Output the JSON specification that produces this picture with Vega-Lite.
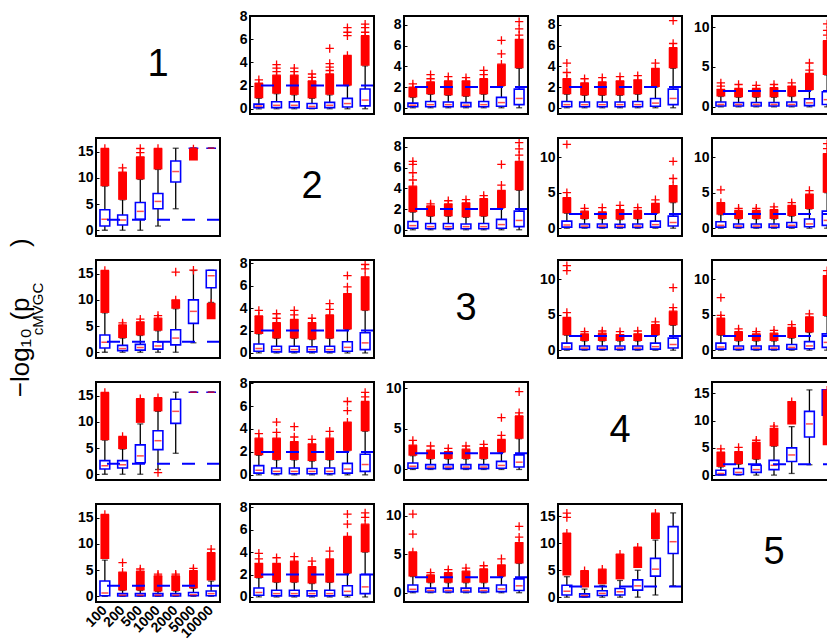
{
"$schema": "https://vega.github.io/schema/vega-lite/v6.json",
"padding": {"left": 7, "top": 9, "right": 5, "bottom": 5},
"background": "white",
"data": {"values": [
{"t":"d","r":1,"c":1,"label":"1"},{"t":"d","r":2,"c":2,"label":"2"},{"t":"d","r":3,"c":3,"label":"3"},{"t":"d","r":4,"c":4,"label":"4"},{"t":"d","r":5,"c":5,"label":"5"},
{"t":"f","r":1,"c":2,"ymin":-0.45,"ymax":8.0,"thr":2},{"t":"f","r":1,"c":3,"ymin":-0.6,"ymax":8.85,"thr":2},{"t":"f","r":1,"c":4,"ymin":-0.6,"ymax":8.85,"thr":2},{"t":"f","r":1,"c":5,"ymin":-0.9,"ymax":11.4,"thr":2},
{"t":"f","r":2,"c":1,"ymin":-1.1,"ymax":17.6,"thr":2},{"t":"f","r":2,"c":3,"ymin":-0.6,"ymax":8.85,"thr":2},{"t":"f","r":2,"c":4,"ymin":-1.1,"ymax":12.7,"thr":2},{"t":"f","r":2,"c":5,"ymin":-1.1,"ymax":12.7,"thr":2},
{"t":"f","r":3,"c":1,"ymin":-1.1,"ymax":17.6,"thr":2},{"t":"f","r":3,"c":2,"ymin":-0.45,"ymax":8.3,"thr":2},{"t":"f","r":3,"c":4,"ymin":-1.1,"ymax":12.7,"thr":2},{"t":"f","r":3,"c":5,"ymin":-1.1,"ymax":12.7,"thr":2},
{"t":"f","r":4,"c":1,"ymin":-1.1,"ymax":17.6,"thr":2},{"t":"f","r":4,"c":2,"ymin":-0.45,"ymax":8.1,"thr":2},{"t":"f","r":4,"c":3,"ymin":-1.3,"ymax":10.8,"thr":2},{"t":"f","r":4,"c":5,"ymin":-0.9,"ymax":17.1,"thr":2},
{"t":"f","r":5,"c":1,"ymin":-1.1,"ymax":17.6,"thr":2},{"t":"f","r":5,"c":2,"ymin":-0.45,"ymax":8.3,"thr":2},{"t":"f","r":5,"c":3,"ymin":-1.2,"ymax":11.5,"thr":2},{"t":"f","r":5,"c":4,"ymin":-0.9,"ymax":17.3,"thr":2},

{"t":"b","r":1,"c":2,"n":"100","lo":0,"q1":0.1,"med":0.25,"q3":0.4,"hi":0.9,"olo":0.9,"ohi":2.2},
{"t":"b","r":1,"c":2,"n":"200","lo":0,"q1":0.1,"med":0.3,"q3":0.6,"hi":1.3,"olo":1.3,"ohi":2.9},
{"t":"b","r":1,"c":2,"n":"500","lo":0,"q1":0.1,"med":0.3,"q3":0.6,"hi":1.2,"olo":1.2,"ohi":2.9},
{"t":"b","r":1,"c":2,"n":"1000","lo":0,"q1":0.05,"med":0.2,"q3":0.45,"hi":0.9,"olo":0.9,"ohi":2.4},
{"t":"b","r":1,"c":2,"n":"2000","lo":0,"q1":0.1,"med":0.3,"q3":0.55,"hi":1.2,"olo":1.2,"ohi":3.0},
{"t":"b","r":1,"c":2,"n":"5000","lo":0,"q1":0.15,"med":0.45,"q3":0.9,"hi":2.0,"olo":2.0,"ohi":4.6},
{"t":"b","r":1,"c":2,"n":"10000","lo":0,"q1":0.25,"med":0.75,"q3":1.7,"hi":3.7,"olo":3.7,"ohi":6.3},
{"t":"o","r":1,"c":2,"n":"100","v":2.5},{"t":"o","r":1,"c":2,"n":"200","v":3.2},{"t":"o","r":1,"c":2,"n":"200","v":3.5},{"t":"o","r":1,"c":2,"n":"200","v":3.8},{"t":"o","r":1,"c":2,"n":"500","v":3.2},{"t":"o","r":1,"c":2,"n":"500","v":3.5},{"t":"o","r":1,"c":2,"n":"1000","v":2.7},{"t":"o","r":1,"c":2,"n":"1000","v":3.0},{"t":"o","r":1,"c":2,"n":"2000","v":3.3},{"t":"o","r":1,"c":2,"n":"2000","v":3.6},{"t":"o","r":1,"c":2,"n":"2000","v":3.9},{"t":"o","r":1,"c":2,"n":"2000","v":5.2},{"t":"o","r":1,"c":2,"n":"5000","v":6.3},{"t":"o","r":1,"c":2,"n":"5000","v":6.6},{"t":"o","r":1,"c":2,"n":"5000","v":7.0},{"t":"o","r":1,"c":2,"n":"10000","v":6.6},{"t":"o","r":1,"c":2,"n":"10000","v":7.0},{"t":"o","r":1,"c":2,"n":"10000","v":7.3},

{"t":"b","r":1,"c":3,"n":"100","lo":0,"q1":0.1,"med":0.25,"q3":0.45,"hi":1.0,"olo":1.0,"ohi":2.0},
{"t":"b","r":1,"c":3,"n":"200","lo":0,"q1":0.1,"med":0.3,"q3":0.6,"hi":1.3,"olo":1.3,"ohi":2.5},
{"t":"b","r":1,"c":3,"n":"500","lo":0,"q1":0.1,"med":0.3,"q3":0.55,"hi":1.2,"olo":1.2,"ohi":2.6},
{"t":"b","r":1,"c":3,"n":"1000","lo":0,"q1":0.1,"med":0.25,"q3":0.5,"hi":1.1,"olo":1.1,"ohi":2.6},
{"t":"b","r":1,"c":3,"n":"2000","lo":0,"q1":0.1,"med":0.3,"q3":0.6,"hi":1.3,"olo":1.3,"ohi":2.8},
{"t":"b","r":1,"c":3,"n":"5000","lo":0,"q1":0.15,"med":0.5,"q3":1.0,"hi":2.1,"olo":2.1,"ohi":4.2},
{"t":"b","r":1,"c":3,"n":"10000","lo":0,"q1":0.3,"med":0.9,"q3":1.8,"hi":3.8,"olo":3.8,"ohi":6.6},
{"t":"o","r":1,"c":3,"n":"100","v":2.3},{"t":"o","r":1,"c":3,"n":"200","v":2.8},{"t":"o","r":1,"c":3,"n":"200","v":3.2},{"t":"o","r":1,"c":3,"n":"500","v":3.0},{"t":"o","r":1,"c":3,"n":"1000","v":2.9},{"t":"o","r":1,"c":3,"n":"2000","v":3.2},{"t":"o","r":1,"c":3,"n":"2000","v":3.6},{"t":"o","r":1,"c":3,"n":"5000","v":5.2},{"t":"o","r":1,"c":3,"n":"5000","v":6.5},{"t":"o","r":1,"c":3,"n":"10000","v":7.0},{"t":"o","r":1,"c":3,"n":"10000","v":7.6},{"t":"o","r":1,"c":3,"n":"10000","v":8.3},

{"t":"b","r":1,"c":4,"n":"100","lo":0,"q1":0.1,"med":0.3,"q3":0.6,"hi":1.3,"olo":1.3,"ohi":2.8},
{"t":"b","r":1,"c":4,"n":"200","lo":0,"q1":0.1,"med":0.3,"q3":0.55,"hi":1.2,"olo":1.2,"ohi":2.4},
{"t":"b","r":1,"c":4,"n":"500","lo":0,"q1":0.1,"med":0.3,"q3":0.55,"hi":1.2,"olo":1.2,"ohi":2.5},
{"t":"b","r":1,"c":4,"n":"1000","lo":0,"q1":0.1,"med":0.3,"q3":0.55,"hi":1.2,"olo":1.2,"ohi":2.6},
{"t":"b","r":1,"c":4,"n":"2000","lo":0,"q1":0.1,"med":0.3,"q3":0.6,"hi":1.3,"olo":1.3,"ohi":2.7},
{"t":"b","r":1,"c":4,"n":"5000","lo":0,"q1":0.15,"med":0.45,"q3":0.9,"hi":2.0,"olo":2.0,"ohi":3.8},
{"t":"b","r":1,"c":4,"n":"10000","lo":0,"q1":0.3,"med":0.9,"q3":1.8,"hi":3.8,"olo":3.8,"ohi":5.8},
{"t":"o","r":1,"c":4,"n":"100","v":3.4},{"t":"o","r":1,"c":4,"n":"100","v":4.3},{"t":"o","r":1,"c":4,"n":"200","v":2.8},{"t":"o","r":1,"c":4,"n":"500","v":2.9},{"t":"o","r":1,"c":4,"n":"1000","v":3.0},{"t":"o","r":1,"c":4,"n":"2000","v":3.1},{"t":"o","r":1,"c":4,"n":"5000","v":4.3},{"t":"o","r":1,"c":4,"n":"10000","v":6.2},{"t":"o","r":1,"c":4,"n":"10000","v":8.4},

{"t":"b","r":1,"c":5,"n":"100","lo":0,"q1":0.1,"med":0.3,"q3":0.6,"hi":1.3,"olo":1.3,"ohi":2.2},
{"t":"b","r":1,"c":5,"n":"200","lo":0,"q1":0.1,"med":0.3,"q3":0.55,"hi":1.2,"olo":1.2,"ohi":2.3},
{"t":"b","r":1,"c":5,"n":"500","lo":0,"q1":0.1,"med":0.3,"q3":0.55,"hi":1.2,"olo":1.2,"ohi":2.3},
{"t":"b","r":1,"c":5,"n":"1000","lo":0,"q1":0.1,"med":0.3,"q3":0.55,"hi":1.2,"olo":1.2,"ohi":2.4},
{"t":"b","r":1,"c":5,"n":"2000","lo":0,"q1":0.1,"med":0.3,"q3":0.6,"hi":1.3,"olo":1.3,"ohi":2.6},
{"t":"b","r":1,"c":5,"n":"5000","lo":0,"q1":0.15,"med":0.5,"q3":1.0,"hi":2.1,"olo":2.1,"ohi":4.2},
{"t":"b","r":1,"c":5,"n":"10000","lo":0,"q1":0.3,"med":0.9,"q3":1.9,"hi":4.0,"olo":4.0,"ohi":8.3},
{"t":"o","r":1,"c":5,"n":"100","v":2.6},{"t":"o","r":1,"c":5,"n":"100","v":3.0},{"t":"o","r":1,"c":5,"n":"200","v":2.8},{"t":"o","r":1,"c":5,"n":"500","v":2.7},{"t":"o","r":1,"c":5,"n":"1000","v":2.8},{"t":"o","r":1,"c":5,"n":"2000","v":3.0},{"t":"o","r":1,"c":5,"n":"5000","v":4.6},{"t":"o","r":1,"c":5,"n":"5000","v":5.5},{"t":"o","r":1,"c":5,"n":"10000","v":9.0},{"t":"o","r":1,"c":5,"n":"10000","v":9.6},{"t":"o","r":1,"c":5,"n":"10000","v":10.4},

{"t":"b","r":2,"c":1,"n":"100","lo":0,"q1":0.8,"med":2.1,"q3":3.9,"hi":8.4,"olo":8.4,"ohi":15.6},
{"t":"b","r":2,"c":1,"n":"200","lo":0,"q1":1.0,"med":1.95,"q3":2.9,"hi":5.8,"olo":5.8,"ohi":11.1},
{"t":"b","r":2,"c":1,"n":"500","lo":0,"q1":2.1,"med":3.6,"q3":5.3,"hi":9.7,"olo":9.7,"ohi":14.0},
{"t":"b","r":2,"c":1,"n":"1000","lo":0.8,"q1":4.1,"med":5.5,"q3":7.0,"hi":11.6,"olo":11.6,"ohi":15.6},
{"t":"b","r":2,"c":1,"n":"2000","lo":4.1,"q1":9.2,"med":11.2,"q3":13.2,"hi":15.65},
{"t":"b","r":2,"c":1,"n":"5000","lo":15.65,"q1":15.65,"med":15.65,"q3":15.65,"hi":15.65,"olo":13.3,"ohi":15.5},
{"t":"b","r":2,"c":1,"n":"10000","lo":15.65,"q1":15.65,"med":15.65,"q3":15.65,"hi":15.65},
{"t":"o","r":2,"c":1,"n":"200","v":11.9},{"t":"o","r":2,"c":1,"n":"500","v":14.8},{"t":"o","r":2,"c":1,"n":"500","v":15.6},

{"t":"b","r":2,"c":3,"n":"100","lo":0,"q1":0.15,"med":0.4,"q3":0.8,"hi":1.7,"olo":1.7,"ohi":4.2},
{"t":"b","r":2,"c":3,"n":"200","lo":0,"q1":0.1,"med":0.3,"q3":0.6,"hi":1.3,"olo":1.3,"ohi":2.3},
{"t":"b","r":2,"c":3,"n":"500","lo":0,"q1":0.1,"med":0.3,"q3":0.6,"hi":1.3,"olo":1.3,"ohi":2.5},
{"t":"b","r":2,"c":3,"n":"1000","lo":0,"q1":0.1,"med":0.3,"q3":0.55,"hi":1.2,"olo":1.2,"ohi":2.6},
{"t":"b","r":2,"c":3,"n":"2000","lo":0,"q1":0.1,"med":0.3,"q3":0.6,"hi":1.3,"olo":1.3,"ohi":3.0},
{"t":"b","r":2,"c":3,"n":"5000","lo":0,"q1":0.15,"med":0.5,"q3":1.0,"hi":2.1,"olo":2.1,"ohi":3.8},
{"t":"b","r":2,"c":3,"n":"10000","lo":0,"q1":0.3,"med":0.9,"q3":1.8,"hi":3.8,"olo":3.8,"ohi":6.6},
{"t":"o","r":2,"c":3,"n":"100","v":4.8},{"t":"o","r":2,"c":3,"n":"100","v":5.5},{"t":"o","r":2,"c":3,"n":"100","v":6.3},{"t":"o","r":2,"c":3,"n":"100","v":6.6},{"t":"o","r":2,"c":3,"n":"200","v":2.5},{"t":"o","r":2,"c":3,"n":"500","v":2.8},{"t":"o","r":2,"c":3,"n":"1000","v":2.9},{"t":"o","r":2,"c":3,"n":"2000","v":3.3},{"t":"o","r":2,"c":3,"n":"5000","v":4.3},{"t":"o","r":2,"c":3,"n":"5000","v":6.3},{"t":"o","r":2,"c":3,"n":"10000","v":7.2},{"t":"o","r":2,"c":3,"n":"10000","v":7.8},{"t":"o","r":2,"c":3,"n":"10000","v":8.4},

{"t":"b","r":2,"c":4,"n":"100","lo":0,"q1":0.15,"med":0.45,"q3":1.0,"hi":2.1,"olo":2.1,"ohi":4.3},
{"t":"b","r":2,"c":4,"n":"200","lo":0,"q1":0.1,"med":0.3,"q3":0.6,"hi":1.3,"olo":1.3,"ohi":2.4},
{"t":"b","r":2,"c":4,"n":"500","lo":0,"q1":0.1,"med":0.3,"q3":0.6,"hi":1.3,"olo":1.3,"ohi":2.3},
{"t":"b","r":2,"c":4,"n":"1000","lo":0,"q1":0.1,"med":0.3,"q3":0.55,"hi":1.2,"olo":1.2,"ohi":2.6},
{"t":"b","r":2,"c":4,"n":"2000","lo":0,"q1":0.1,"med":0.3,"q3":0.6,"hi":1.3,"olo":1.3,"ohi":2.5},
{"t":"b","r":2,"c":4,"n":"5000","lo":0,"q1":0.15,"med":0.5,"q3":1.0,"hi":2.1,"olo":2.1,"ohi":3.5},
{"t":"b","r":2,"c":4,"n":"10000","lo":0,"q1":0.3,"med":0.8,"q3":1.7,"hi":3.6,"olo":3.6,"ohi":6.0},
{"t":"o","r":2,"c":4,"n":"100","v":5.0},{"t":"o","r":2,"c":4,"n":"100","v":11.8},{"t":"o","r":2,"c":4,"n":"200","v":2.8},{"t":"o","r":2,"c":4,"n":"500","v":2.9},{"t":"o","r":2,"c":4,"n":"1000","v":3.2},{"t":"o","r":2,"c":4,"n":"2000","v":2.9},{"t":"o","r":2,"c":4,"n":"5000","v":4.0},{"t":"o","r":2,"c":4,"n":"10000","v":7.0},{"t":"o","r":2,"c":4,"n":"10000","v":9.4},

{"t":"b","r":2,"c":5,"n":"100","lo":0,"q1":0.15,"med":0.4,"q3":0.9,"hi":1.9,"olo":1.9,"ohi":3.6},
{"t":"b","r":2,"c":5,"n":"200","lo":0,"q1":0.1,"med":0.3,"q3":0.6,"hi":1.3,"olo":1.3,"ohi":2.5},
{"t":"b","r":2,"c":5,"n":"500","lo":0,"q1":0.1,"med":0.3,"q3":0.6,"hi":1.3,"olo":1.3,"ohi":2.5},
{"t":"b","r":2,"c":5,"n":"1000","lo":0,"q1":0.1,"med":0.3,"q3":0.6,"hi":1.3,"olo":1.3,"ohi":2.6},
{"t":"b","r":2,"c":5,"n":"2000","lo":0,"q1":0.15,"med":0.4,"q3":0.8,"hi":1.7,"olo":1.7,"ohi":3.2},
{"t":"b","r":2,"c":5,"n":"5000","lo":0,"q1":0.2,"med":0.6,"q3":1.3,"hi":2.7,"olo":2.7,"ohi":4.8},
{"t":"b","r":2,"c":5,"n":"10000","lo":0,"q1":0.4,"med":1.1,"q3":2.4,"hi":5.0,"olo":5.0,"ohi":10.5},
{"t":"o","r":2,"c":5,"n":"100","v":5.4},{"t":"o","r":2,"c":5,"n":"200","v":2.8},{"t":"o","r":2,"c":5,"n":"500","v":2.8},{"t":"o","r":2,"c":5,"n":"1000","v":3.0},{"t":"o","r":2,"c":5,"n":"2000","v":3.6},{"t":"o","r":2,"c":5,"n":"5000","v":5.3},{"t":"o","r":2,"c":5,"n":"10000","v":11.2},{"t":"o","r":2,"c":5,"n":"10000","v":11.9},

{"t":"b","r":3,"c":1,"n":"100","lo":0,"q1":0.8,"med":1.9,"q3":3.3,"hi":7.5,"olo":7.5,"ohi":15.6},
{"t":"b","r":3,"c":1,"n":"200","lo":0,"q1":0.3,"med":0.7,"q3":1.3,"hi":2.7,"olo":2.7,"ohi":5.2},
{"t":"b","r":3,"c":1,"n":"500","lo":0,"q1":0.4,"med":0.9,"q3":1.5,"hi":3.2,"olo":3.2,"ohi":5.8},
{"t":"b","r":3,"c":1,"n":"1000","lo":0,"q1":0.6,"med":1.2,"q3":2.0,"hi":4.1,"olo":4.1,"ohi":6.5},
{"t":"b","r":3,"c":1,"n":"2000","lo":0,"q1":1.4,"med":2.7,"q3":4.3,"hi":8.3,"olo":8.3,"ohi":10.0},
{"t":"b","r":3,"c":1,"n":"5000","lo":1.8,"q1":5.5,"med":7.8,"q3":10.0,"hi":15.6},
{"t":"b","r":3,"c":1,"n":"10000","lo":9.5,"q1":12.3,"med":14.6,"q3":15.65,"hi":15.65,"olo":6.3,"ohi":9.3},
{"t":"o","r":3,"c":1,"n":"200","v":5.6},{"t":"o","r":3,"c":1,"n":"500","v":6.3},{"t":"o","r":3,"c":1,"n":"1000","v":7.0},{"t":"o","r":3,"c":1,"n":"2000","v":15.3},{"t":"o","r":3,"c":1,"n":"5000","v":15.65},

{"t":"b","r":3,"c":2,"n":"100","lo":0,"q1":0.15,"med":0.4,"q3":0.8,"hi":1.7,"olo":1.7,"ohi":3.3},
{"t":"b","r":3,"c":2,"n":"200","lo":0,"q1":0.1,"med":0.3,"q3":0.6,"hi":1.3,"olo":1.3,"ohi":2.7},
{"t":"b","r":3,"c":2,"n":"500","lo":0,"q1":0.1,"med":0.3,"q3":0.6,"hi":1.3,"olo":1.3,"ohi":3.0},
{"t":"b","r":3,"c":2,"n":"1000","lo":0,"q1":0.1,"med":0.3,"q3":0.55,"hi":1.2,"olo":1.2,"ohi":2.7},
{"t":"b","r":3,"c":2,"n":"2000","lo":0,"q1":0.1,"med":0.3,"q3":0.6,"hi":1.3,"olo":1.3,"ohi":3.4},
{"t":"b","r":3,"c":2,"n":"5000","lo":0,"q1":0.15,"med":0.5,"q3":1.0,"hi":2.1,"olo":2.1,"ohi":5.3},
{"t":"b","r":3,"c":2,"n":"10000","lo":0,"q1":0.3,"med":0.9,"q3":1.8,"hi":3.8,"olo":3.8,"ohi":6.8},
{"t":"o","r":3,"c":2,"n":"100","v":3.8},{"t":"o","r":3,"c":2,"n":"200","v":3.1},{"t":"o","r":3,"c":2,"n":"200","v":3.5},{"t":"o","r":3,"c":2,"n":"500","v":3.4},{"t":"o","r":3,"c":2,"n":"500","v":3.8},{"t":"o","r":3,"c":2,"n":"1000","v":3.1},{"t":"o","r":3,"c":2,"n":"2000","v":3.9},{"t":"o","r":3,"c":2,"n":"2000","v":4.4},{"t":"o","r":3,"c":2,"n":"5000","v":5.9},{"t":"o","r":3,"c":2,"n":"5000","v":6.9},{"t":"o","r":3,"c":2,"n":"10000","v":7.5},{"t":"o","r":3,"c":2,"n":"10000","v":7.9},

{"t":"b","r":3,"c":4,"n":"100","lo":0,"q1":0.15,"med":0.45,"q3":1.0,"hi":2.1,"olo":2.1,"ohi":4.6},
{"t":"b","r":3,"c":4,"n":"200","lo":0,"q1":0.1,"med":0.3,"q3":0.6,"hi":1.3,"olo":1.3,"ohi":2.3},
{"t":"b","r":3,"c":4,"n":"500","lo":0,"q1":0.1,"med":0.3,"q3":0.6,"hi":1.3,"olo":1.3,"ohi":2.4},
{"t":"b","r":3,"c":4,"n":"1000","lo":0,"q1":0.1,"med":0.3,"q3":0.6,"hi":1.3,"olo":1.3,"ohi":2.2},
{"t":"b","r":3,"c":4,"n":"2000","lo":0,"q1":0.1,"med":0.3,"q3":0.6,"hi":1.3,"olo":1.3,"ohi":2.3},
{"t":"b","r":3,"c":4,"n":"5000","lo":0,"q1":0.15,"med":0.5,"q3":1.0,"hi":2.1,"olo":2.1,"ohi":3.6},
{"t":"b","r":3,"c":4,"n":"10000","lo":0,"q1":0.3,"med":0.8,"q3":1.7,"hi":3.5,"olo":3.5,"ohi":5.5},
{"t":"o","r":3,"c":4,"n":"100","v":5.3},{"t":"o","r":3,"c":4,"n":"100","v":11.2},{"t":"o","r":3,"c":4,"n":"100","v":11.9},{"t":"o","r":3,"c":4,"n":"200","v":2.6},{"t":"o","r":3,"c":4,"n":"500","v":2.7},{"t":"o","r":3,"c":4,"n":"1000","v":2.6},{"t":"o","r":3,"c":4,"n":"2000","v":2.7},{"t":"o","r":3,"c":4,"n":"5000","v":4.0},{"t":"o","r":3,"c":4,"n":"10000","v":6.0},{"t":"o","r":3,"c":4,"n":"10000","v":8.8},

{"t":"b","r":3,"c":5,"n":"100","lo":0,"q1":0.15,"med":0.45,"q3":1.0,"hi":2.1,"olo":2.1,"ohi":4.5},
{"t":"b","r":3,"c":5,"n":"200","lo":0,"q1":0.1,"med":0.3,"q3":0.6,"hi":1.3,"olo":1.3,"ohi":2.6},
{"t":"b","r":3,"c":5,"n":"500","lo":0,"q1":0.1,"med":0.3,"q3":0.6,"hi":1.3,"olo":1.3,"ohi":2.3},
{"t":"b","r":3,"c":5,"n":"1000","lo":0,"q1":0.1,"med":0.3,"q3":0.6,"hi":1.3,"olo":1.3,"ohi":2.4},
{"t":"b","r":3,"c":5,"n":"2000","lo":0,"q1":0.15,"med":0.4,"q3":0.8,"hi":1.7,"olo":1.7,"ohi":3.2},
{"t":"b","r":3,"c":5,"n":"5000","lo":0,"q1":0.2,"med":0.6,"q3":1.2,"hi":2.5,"olo":2.5,"ohi":4.7},
{"t":"b","r":3,"c":5,"n":"10000","lo":0,"q1":0.4,"med":1.1,"q3":2.3,"hi":4.8,"olo":4.8,"ohi":10.5},
{"t":"o","r":3,"c":5,"n":"100","v":4.9},{"t":"o","r":3,"c":5,"n":"100","v":7.4},{"t":"o","r":3,"c":5,"n":"200","v":3.0},{"t":"o","r":3,"c":5,"n":"500","v":2.6},{"t":"o","r":3,"c":5,"n":"1000","v":2.8},{"t":"o","r":3,"c":5,"n":"2000","v":3.6},{"t":"o","r":3,"c":5,"n":"5000","v":5.1},{"t":"o","r":3,"c":5,"n":"10000","v":11.2},

{"t":"b","r":4,"c":1,"n":"100","lo":0,"q1":1.0,"med":1.6,"q3":2.6,"hi":6.5,"olo":6.5,"ohi":15.6},
{"t":"b","r":4,"c":1,"n":"200","lo":0,"q1":1.2,"med":1.8,"q3":2.6,"hi":4.8,"olo":4.8,"ohi":7.2},
{"t":"b","r":4,"c":1,"n":"500","lo":0,"q1":2.2,"med":3.5,"q3":5.6,"hi":9.6,"olo":9.8,"ohi":14.4},
{"t":"b","r":4,"c":1,"n":"1000","lo":0.9,"q1":4.7,"med":6.4,"q3":8.3,"hi":12.0,"olo":12.0,"ohi":14.6},
{"t":"b","r":4,"c":1,"n":"2000","lo":4.0,"q1":9.7,"med":12.0,"q3":14.3,"hi":15.65},
{"t":"b","r":4,"c":1,"n":"5000","lo":15.65,"q1":15.65,"med":15.65,"q3":15.65,"hi":15.65},
{"t":"b","r":4,"c":1,"n":"10000","lo":15.65,"q1":15.65,"med":15.65,"q3":15.65,"hi":15.65},
{"t":"o","r":4,"c":1,"n":"1000","v":0.3},

{"t":"b","r":4,"c":2,"n":"100","lo":0,"q1":0.15,"med":0.4,"q3":0.8,"hi":1.7,"olo":1.7,"ohi":3.2},
{"t":"b","r":4,"c":2,"n":"200","lo":0,"q1":0.1,"med":0.3,"q3":0.6,"hi":1.3,"olo":1.3,"ohi":3.2},
{"t":"b","r":4,"c":2,"n":"500","lo":0,"q1":0.1,"med":0.3,"q3":0.6,"hi":1.3,"olo":1.3,"ohi":2.9},
{"t":"b","r":4,"c":2,"n":"1000","lo":0,"q1":0.1,"med":0.3,"q3":0.55,"hi":1.2,"olo":1.2,"ohi":2.7},
{"t":"b","r":4,"c":2,"n":"2000","lo":0,"q1":0.1,"med":0.3,"q3":0.6,"hi":1.3,"olo":1.3,"ohi":3.2},
{"t":"b","r":4,"c":2,"n":"5000","lo":0,"q1":0.15,"med":0.5,"q3":1.0,"hi":2.1,"olo":2.1,"ohi":4.6},
{"t":"b","r":4,"c":2,"n":"10000","lo":0,"q1":0.3,"med":0.9,"q3":1.8,"hi":3.8,"olo":3.8,"ohi":6.4},
{"t":"o","r":4,"c":2,"n":"100","v":3.6},{"t":"o","r":4,"c":2,"n":"200","v":3.7},{"t":"o","r":4,"c":2,"n":"200","v":4.6},{"t":"o","r":4,"c":2,"n":"500","v":3.3},{"t":"o","r":4,"c":2,"n":"500","v":4.2},{"t":"o","r":4,"c":2,"n":"1000","v":3.1},{"t":"o","r":4,"c":2,"n":"2000","v":3.8},{"t":"o","r":4,"c":2,"n":"5000","v":5.6},{"t":"o","r":4,"c":2,"n":"5000","v":6.4},{"t":"o","r":4,"c":2,"n":"10000","v":6.8},{"t":"o","r":4,"c":2,"n":"10000","v":7.2},

{"t":"b","r":4,"c":3,"n":"100","lo":0,"q1":0.15,"med":0.4,"q3":0.8,"hi":1.7,"olo":1.7,"ohi":3.0},
{"t":"b","r":4,"c":3,"n":"200","lo":0,"q1":0.1,"med":0.3,"q3":0.6,"hi":1.3,"olo":1.3,"ohi":2.4},
{"t":"b","r":4,"c":3,"n":"500","lo":0,"q1":0.1,"med":0.3,"q3":0.6,"hi":1.3,"olo":1.3,"ohi":2.2},
{"t":"b","r":4,"c":3,"n":"1000","lo":0,"q1":0.1,"med":0.3,"q3":0.6,"hi":1.3,"olo":1.3,"ohi":2.5},
{"t":"b","r":4,"c":3,"n":"2000","lo":0,"q1":0.1,"med":0.3,"q3":0.6,"hi":1.3,"olo":1.3,"ohi":2.7},
{"t":"b","r":4,"c":3,"n":"5000","lo":0,"q1":0.15,"med":0.5,"q3":1.0,"hi":2.1,"olo":2.1,"ohi":3.7},
{"t":"b","r":4,"c":3,"n":"10000","lo":0,"q1":0.3,"med":0.9,"q3":1.8,"hi":3.8,"olo":3.8,"ohi":6.6},
{"t":"o","r":4,"c":3,"n":"100","v":3.6},{"t":"o","r":4,"c":3,"n":"200","v":2.9},{"t":"o","r":4,"c":3,"n":"500","v":2.6},{"t":"o","r":4,"c":3,"n":"1000","v":2.9},{"t":"o","r":4,"c":3,"n":"2000","v":3.1},{"t":"o","r":4,"c":3,"n":"5000","v":4.2},{"t":"o","r":4,"c":3,"n":"5000","v":6.4},{"t":"o","r":4,"c":3,"n":"10000","v":7.0},{"t":"o","r":4,"c":3,"n":"10000","v":9.6},

{"t":"b","r":4,"c":5,"n":"100","lo":0,"q1":0.05,"med":0.3,"q3":0.9,"hi":1.5,"olo":1.5,"ohi":4.2},
{"t":"b","r":4,"c":5,"n":"200","lo":0,"q1":0.1,"med":0.5,"q3":1.2,"hi":2.0,"olo":2.0,"ohi":4.3},
{"t":"b","r":4,"c":5,"n":"500","lo":0,"q1":0.5,"med":1.0,"q3":1.8,"hi":2.9,"olo":2.9,"ohi":6.0},
{"t":"b","r":4,"c":5,"n":"1000","lo":0,"q1":1.0,"med":1.8,"q3":2.7,"hi":5.3,"olo":5.3,"ohi":8.6},
{"t":"b","r":4,"c":5,"n":"2000","lo":0.3,"q1":2.5,"med":3.7,"q3":5.0,"hi":8.9,"olo":9.3,"ohi":13.5},
{"t":"b","r":4,"c":5,"n":"5000","lo":1.9,"q1":7.0,"med":9.4,"q3":11.7,"hi":15.65},
{"t":"b","r":4,"c":5,"n":"10000","lo":9.5,"q1":11.0,"med":13.5,"q3":15.65,"hi":15.65,"olo":5.5,"ohi":15.6},
{"t":"o","r":4,"c":5,"n":"100","v":4.8},{"t":"o","r":4,"c":5,"n":"200","v":5.1},{"t":"o","r":4,"c":5,"n":"500","v":6.4},{"t":"o","r":4,"c":5,"n":"1000","v":9.0},

{"t":"b","r":5,"c":1,"n":"100","lo":0,"q1":0.1,"med":0.6,"q3":2.9,"hi":6.9,"olo":7.1,"ohi":15.6},
{"t":"b","r":5,"c":1,"n":"200","lo":0,"q1":0.05,"med":0.2,"q3":0.5,"hi":1.1,"olo":1.1,"ohi":4.6},
{"t":"b","r":5,"c":1,"n":"500","lo":0,"q1":0.05,"med":0.2,"q3":0.5,"hi":1.1,"olo":1.1,"ohi":4.8},
{"t":"b","r":5,"c":1,"n":"1000","lo":0,"q1":0.05,"med":0.2,"q3":0.5,"hi":0.9,"olo":0.9,"ohi":3.9},
{"t":"b","r":5,"c":1,"n":"2000","lo":0,"q1":0.05,"med":0.2,"q3":0.5,"hi":1.0,"olo":1.0,"ohi":3.9},
{"t":"b","r":5,"c":1,"n":"5000","lo":0,"q1":0.1,"med":0.3,"q3":0.7,"hi":1.5,"olo":1.5,"ohi":4.9},
{"t":"b","r":5,"c":1,"n":"10000","lo":0,"q1":0.1,"med":0.5,"q3":1.0,"hi":2.9,"olo":3.0,"ohi":8.3},
{"t":"o","r":5,"c":1,"n":"200","v":6.4},{"t":"o","r":5,"c":1,"n":"500","v":5.2},{"t":"o","r":5,"c":1,"n":"1000","v":4.2},{"t":"o","r":5,"c":1,"n":"2000","v":4.2},{"t":"o","r":5,"c":1,"n":"5000","v":5.3},{"t":"o","r":5,"c":1,"n":"10000","v":9.0},

{"t":"b","r":5,"c":2,"n":"100","lo":0,"q1":0.15,"med":0.4,"q3":0.8,"hi":1.7,"olo":1.7,"ohi":3.0},
{"t":"b","r":5,"c":2,"n":"200","lo":0,"q1":0.1,"med":0.3,"q3":0.6,"hi":1.3,"olo":1.3,"ohi":3.0},
{"t":"b","r":5,"c":2,"n":"500","lo":0,"q1":0.1,"med":0.3,"q3":0.6,"hi":1.3,"olo":1.3,"ohi":3.2},
{"t":"b","r":5,"c":2,"n":"1000","lo":0,"q1":0.1,"med":0.3,"q3":0.55,"hi":1.2,"olo":1.2,"ohi":2.7},
{"t":"b","r":5,"c":2,"n":"2000","lo":0,"q1":0.1,"med":0.3,"q3":0.6,"hi":1.3,"olo":1.3,"ohi":3.4},
{"t":"b","r":5,"c":2,"n":"5000","lo":0,"q1":0.15,"med":0.5,"q3":1.0,"hi":2.1,"olo":2.1,"ohi":5.4},
{"t":"b","r":5,"c":2,"n":"10000","lo":0,"q1":0.3,"med":0.9,"q3":2.0,"hi":4.0,"olo":4.0,"ohi":6.5},
{"t":"o","r":5,"c":2,"n":"100","v":3.4},{"t":"o","r":5,"c":2,"n":"100","v":3.9},{"t":"o","r":5,"c":2,"n":"200","v":3.5},{"t":"o","r":5,"c":2,"n":"500","v":3.6},{"t":"o","r":5,"c":2,"n":"1000","v":3.2},{"t":"o","r":5,"c":2,"n":"2000","v":4.1},{"t":"o","r":5,"c":2,"n":"5000","v":6.5},{"t":"o","r":5,"c":2,"n":"5000","v":7.4},{"t":"o","r":5,"c":2,"n":"10000","v":7.1},{"t":"o","r":5,"c":2,"n":"10000","v":7.5},

{"t":"b","r":5,"c":3,"n":"100","lo":0,"q1":0.15,"med":0.45,"q3":1.0,"hi":2.1,"olo":2.1,"ohi":5.3},
{"t":"b","r":5,"c":3,"n":"200","lo":0,"q1":0.1,"med":0.3,"q3":0.6,"hi":1.3,"olo":1.3,"ohi":2.3},
{"t":"b","r":5,"c":3,"n":"500","lo":0,"q1":0.1,"med":0.3,"q3":0.6,"hi":1.3,"olo":1.3,"ohi":2.6},
{"t":"b","r":5,"c":3,"n":"1000","lo":0,"q1":0.1,"med":0.3,"q3":0.6,"hi":1.3,"olo":1.3,"ohi":2.8},
{"t":"b","r":5,"c":3,"n":"2000","lo":0,"q1":0.1,"med":0.3,"q3":0.6,"hi":1.3,"olo":1.3,"ohi":3.1},
{"t":"b","r":5,"c":3,"n":"5000","lo":0,"q1":0.15,"med":0.5,"q3":1.0,"hi":2.1,"olo":2.1,"ohi":3.6},
{"t":"b","r":5,"c":3,"n":"10000","lo":0,"q1":0.3,"med":0.9,"q3":1.8,"hi":3.8,"olo":3.8,"ohi":6.5},
{"t":"o","r":5,"c":3,"n":"100","v":7.6},{"t":"o","r":5,"c":3,"n":"100","v":10.2},{"t":"o","r":5,"c":3,"n":"200","v":2.6},{"t":"o","r":5,"c":3,"n":"500","v":3.0},{"t":"o","r":5,"c":3,"n":"1000","v":3.2},{"t":"o","r":5,"c":3,"n":"2000","v":3.5},{"t":"o","r":5,"c":3,"n":"5000","v":4.4},{"t":"o","r":5,"c":3,"n":"10000","v":7.2},{"t":"o","r":5,"c":3,"n":"10000","v":8.6},

{"t":"b","r":5,"c":4,"n":"100","lo":0,"q1":0.4,"med":1.1,"q3":2.2,"hi":3.8,"olo":4.0,"ohi":11.9},
{"t":"b","r":5,"c":4,"n":"200","lo":0,"q1":0.05,"med":0.3,"q3":0.6,"hi":1.5,"olo":1.8,"ohi":4.9},
{"t":"b","r":5,"c":4,"n":"500","lo":0,"q1":0.3,"med":0.7,"q3":1.2,"hi":2.2,"olo":2.4,"ohi":5.2},
{"t":"b","r":5,"c":4,"n":"1000","lo":0,"q1":0.4,"med":1.0,"q3":1.6,"hi":3.1,"olo":3.3,"ohi":8.0},
{"t":"b","r":5,"c":4,"n":"2000","lo":0,"q1":1.3,"med":2.1,"q3":3.2,"hi":5.0,"olo":5.4,"ohi":9.3},
{"t":"b","r":5,"c":4,"n":"5000","lo":0.4,"q1":3.9,"med":5.2,"q3":7.2,"hi":10.6,"olo":10.8,"ohi":15.6},
{"t":"b","r":5,"c":4,"n":"10000","lo":2.1,"q1":8.1,"med":10.3,"q3":13.1,"hi":15.65},
{"t":"o","r":5,"c":4,"n":"100","v":14.8},{"t":"o","r":5,"c":4,"n":"100","v":15.6}
]},
"facet": {
  "row": {"field": "r", "type": "ordinal", "header": {
    "title": "\u200b\u00a0\u00a0−log₁₀ (p\u00a0\u00a0\u00a0\u00a0\u00a0\u00a0\u00a0)",
    "titleFont": "Liberation Sans", "titleFontSize": 26, "titleFontWeight": "normal", "titleColor": "black", "titleAngle": -90, "titlePadding": -39,
    "labelExpr": "datum.value == 3 ? 'cMVGC' : ''",
    "labelFont": "Liberation Sans", "labelFontSize": 15, "labelColor": "black", "labelAngle": -90, "labelPadding": 43
  }},
  "column": {"field": "c", "type": "ordinal", "header": null}
},
"spacing": {"row": 24, "column": 30},
"bounds": "flush",
"resolve": {"scale": {"x": "independent", "y": "independent"}, "axis": {"x": "independent", "y": "independent"}},
"spec": {
  "width": 124, "height": 98,
  "layer": [
    {"layer": [
      {"transform": [{"filter": "datum.t == 'b'"}],
       "encoding": {"x": {"field": "n", "type": "ordinal", "sort": ["100","200","500","1000","2000","5000","10000"], "scale": {"paddingInner": 0, "paddingOuter": 0}, "axis": null}},
       "layer": [
         {"mark": {"type": "rule", "color": "black", "strokeWidth": 1.3}, "encoding": {"y": {"field": "lo", "type": "quantitative", "title": null}, "y2": {"field": "hi"}}},
         {"mark": {"type": "tick", "color": "black", "size": 6, "thickness": 1.3}, "encoding": {"y": {"field": "lo", "type": "quantitative", "title": null}}},
         {"mark": {"type": "tick", "color": "black", "size": 6, "thickness": 1.3}, "encoding": {"y": {"field": "hi", "type": "quantitative", "title": null}}},
         {"mark": {"type": "bar", "fill": "white", "stroke": "#0000ff", "strokeWidth": 1.6, "width": {"band": 0.55}}, "encoding": {"y": {"field": "q1", "type": "quantitative", "title": null}, "y2": {"field": "q3"}}},
         {"mark": {"type": "tick", "color": "#ff0000", "size": 7, "thickness": 1.5}, "encoding": {"y": {"field": "med", "type": "quantitative", "title": null}}},
         {"mark": {"type": "bar", "fill": "#ff0000", "width": {"band": 0.5}}, "encoding": {"y": {"field": "olo", "type": "quantitative", "title": null}, "y2": {"field": "ohi"}}},
         {"mark": {"type": "point", "shape": "M-1,0H1M0,-1V1", "filled": false, "stroke": "#ff0000", "strokeWidth": 1.3, "size": 70, "opacity": 1}, "encoding": {"y": {"field": "ohi", "type": "quantitative", "title": null}}}
       ]},
      {"transform": [{"filter": "datum.t == 'o'"}],
       "mark": {"type": "point", "shape": "M-1,0H1M0,-1V1", "filled": false, "stroke": "#ff0000", "strokeWidth": 1.3, "size": 70, "opacity": 1},
       "encoding": {"x": {"field": "n", "type": "ordinal", "sort": ["100","200","500","1000","2000","5000","10000"], "axis": null}, "y": {"field": "v", "type": "quantitative", "title": null}}},
      {"transform": [{"filter": "datum.t == 'f'"}],
       "mark": {"type": "rule", "color": "#0000ff", "strokeWidth": 2, "strokeDash": [13, 12]},
       "encoding": {"y": {"field": "thr", "type": "quantitative", "title": null}}},
      {"transform": [{"filter": "datum.t == 'f'"}],
       "mark": {"type": "rect", "filled": false, "stroke": "black", "strokeWidth": 2},
       "encoding": {"y": {"field": "ymin", "type": "quantitative", "title": null, "scale": {"zero": false, "nice": false}}, "y2": {"field": "ymax"}}},
      {"transform": [{"filter": "datum.t == 'd'"}],
       "mark": {"type": "text", "font": "Liberation Sans", "fontSize": 38, "color": "black"},
       "encoding": {"text": {"field": "label"}}}
    ]},
    {"transform": [{"filter": "datum.t == 'b' && datum.r == 5 && datum.c == 1"}],
     "mark": {"type": "tick", "opacity": 0},
     "encoding": {
       "x": {"field": "n", "type": "ordinal", "sort": null, "scale": {"paddingInner": 0, "paddingOuter": 0},
             "axis": {"orient": "bottom", "title": null, "labelAngle": -45, "labelAlign": "right", "labelBaseline": "middle", "labelFont": "Liberation Sans", "labelFontWeight": "bold", "labelFontSize": 14, "labelColor": "black", "labelPadding": 6, "ticks": false, "domain": false, "grid": false}},
       "y": {"field": "med", "type": "quantitative", "title": null}}}
  ],
  "resolve": {"scale": {"x": "independent"}, "axis": {"x": "independent"}}
},
"config": {
  "view": {"stroke": null},
  "font": "Liberation Sans",
  "header": {"labelFontSize": 15, "labelFont": "Liberation Sans", "labelColor": "black"},
  "axisY": {"domain": false, "grid": false, "labelFont": "Liberation Sans", "labelFontWeight": "bold", "labelFontSize": 14, "labelColor": "black", "labelPadding": 6, "tickSize": -3, "tickColor": "black", "tickCount": 3}
}
}
